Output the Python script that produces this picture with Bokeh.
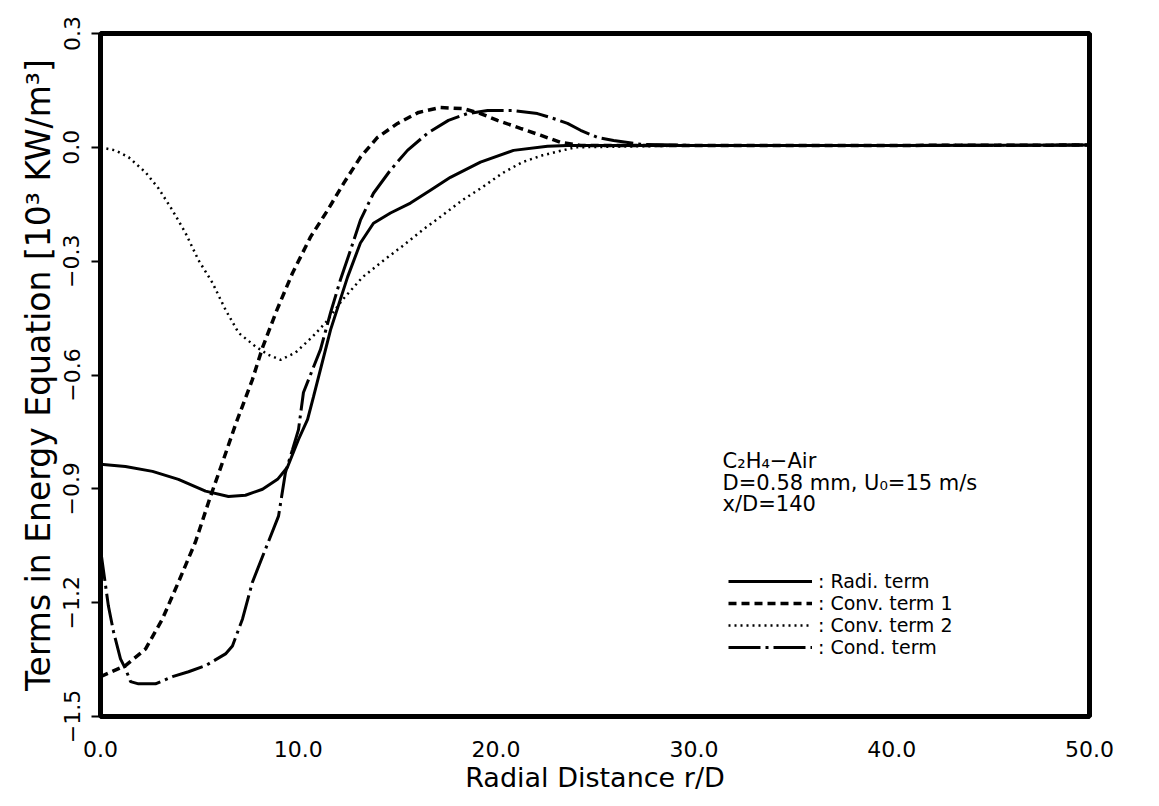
from bokeh.plotting import figure
from bokeh.models import Range1d, FixedTicker, Legend, LegendItem, Label
from bokeh.embed import file_html
from bokeh.resources import INLINE

FONT = "DejaVu Sans"

# ---- data ----
radi_r = [0.0, 1.26, 2.63, 3.94, 5.31, 6.47, 7.33, 8.19, 8.95, 9.45, 10.01, 10.47, 10.77,
          11.63, 12.49, 13.14, 13.80, 14.66, 15.67, 16.68, 17.69, 19.21, 20.88, 22.6, 23.6,
          30.0, 40.0, 50.0]
radi_v = [-0.835, -0.841, -0.854, -0.875, -0.906, -0.920, -0.917, -0.901, -0.875, -0.843,
          -0.770, -0.717, -0.657, -0.481, -0.342, -0.252, -0.200, -0.173, -0.147, -0.113,
          -0.079, -0.039, -0.008, 0.003, 0.005, 0.005, 0.005, 0.006]

conv1_r = [0.0, 1.26, 2.28, 3.13, 3.94, 4.80, 5.56, 6.17, 6.83, 7.68, 8.19, 8.90, 9.71,
           10.62, 11.48, 12.29, 13.14, 14.00, 15.02, 16.08, 17.19, 18.35, 19.21, 20.07,
           21.23, 22.24, 23.26, 24.27, 30.0, 40.0, 50.0]
conv1_v = [-1.395, -1.366, -1.322, -1.243, -1.146, -1.040, -0.920, -0.830, -0.730, -0.612,
           -0.528, -0.431, -0.331, -0.236, -0.166, -0.095, -0.026, 0.026, 0.063, 0.092,
           0.105, 0.102, 0.089, 0.071, 0.050, 0.032, 0.013, 0.005, 0.005, 0.005, 0.006]

conv2_r = [0.0, 0.76, 1.42, 2.28, 2.93, 3.64, 4.30, 4.95, 5.66, 6.32, 6.98, 7.84, 8.49,
           9.10, 9.86, 10.72, 11.38, 12.23, 13.25, 14.26, 15.27, 16.28, 17.29, 18.30,
           19.31, 20.32, 21.33, 22.35, 23.36, 24.0, 30.0, 40.0, 50.0]
conv2_v = [0.0, -0.008, -0.026, -0.066, -0.108, -0.166, -0.226, -0.297, -0.357, -0.428,
           -0.489, -0.525, -0.547, -0.560, -0.541, -0.499, -0.462, -0.402, -0.342, -0.300,
           -0.260, -0.218, -0.179, -0.139, -0.105, -0.068, -0.039, -0.021, -0.008, 0.0,
           0.005, 0.005, 0.006]

cond_r = [0.0, 0.40, 0.66, 1.01, 1.26, 1.52, 1.92, 2.78, 3.64, 4.45, 5.31, 6.32, 6.67,
          7.18, 7.68, 8.34, 9.00, 9.35, 9.71, 10.01, 10.26, 11.12, 11.63, 12.13, 12.64,
          13.14, 13.80, 14.66, 15.52, 16.53, 17.59, 18.55, 19.57, 20.88, 22.09, 22.90,
          23.61, 24.27, 25.13, 25.94, 27.3, 30.0, 40.0, 50.0]
cond_v = [-1.059, -1.209, -1.277, -1.348, -1.374, -1.408, -1.414, -1.414, -1.395, -1.382,
          -1.366, -1.335, -1.314, -1.243, -1.146, -1.059, -0.972, -0.857, -0.796, -0.744,
          -0.646, -0.533, -0.436, -0.349, -0.271, -0.192, -0.121, -0.060, -0.008, 0.037,
          0.071, 0.089, 0.097, 0.097, 0.089, 0.076, 0.063, 0.045, 0.026, 0.018, 0.008,
          0.005, 0.005, 0.006]

series_labels = [": Radi. term", ": Conv. term 1", ": Conv. term 2", ": Cond. term"]

x_ticks = [0, 10, 20, 30, 40, 50]
x_tick_labels = ["0.0", "10.0", "20.0", "30.0", "40.0", "50.0"]
y_ticks = [-1.5, -1.2, -0.9, -0.6, -0.3, 0.0, 0.3]
y_tick_labels = ["\u22121.5", "\u22121.2", "\u22120.9", "\u22120.6", "\u22120.3", "0.0", "0.3"]

info_lines = ["C\u2082H\u2084\u2212Air", "D=0.58 mm, U\u2080=15 m/s", "x/D=140"]

# ---- figure ----
W, H = 1150, 800
p = figure(width=W, height=H, output_backend="svg", toolbar_location=None,
           x_range=Range1d(0, 50), y_range=Range1d(-1.5, 0.3),
           min_border_left=100, min_border_right=W - 1089,
           min_border_top=33, min_border_bottom=H - 716)
p.background_fill_color = "white"
p.border_fill_color = "white"
p.grid.visible = False
p.outline_line_color = "black"
p.outline_line_width = 5

# axes
p.xaxis.ticker = FixedTicker(ticks=x_ticks)
p.xaxis.major_label_overrides = {t: l for t, l in zip(x_ticks, x_tick_labels)}
p.xaxis.major_label_text_align = "left"
p.xaxis.major_tick_line_color = None
p.xaxis.minor_tick_line_color = None
p.xaxis.axis_line_color = None
p.xaxis.major_label_standoff = 18
p.xaxis.major_label_text_font = FONT
p.xaxis.major_label_text_font_size = "22px"
p.xaxis.major_label_text_color = "black"
p.xaxis.axis_label = "Radial Distance r/D"
p.xaxis.axis_label_text_font = FONT
p.xaxis.axis_label_text_font_size = "27px"
p.xaxis.axis_label_text_font_style = "normal"
p.xaxis.axis_label_text_color = "black"
p.xaxis.axis_label_standoff = 2

p.yaxis.ticker = FixedTicker(ticks=y_ticks)
p.yaxis.major_label_overrides = {t: l for t, l in zip(y_ticks, y_tick_labels)}
p.yaxis.major_label_orientation = "vertical"
p.yaxis.major_tick_in = 0
p.yaxis.major_tick_out = 9
p.yaxis.major_tick_line_width = 2
p.yaxis.major_tick_line_color = "black"
p.yaxis.minor_tick_line_color = None
p.yaxis.axis_line_color = None
p.yaxis.major_label_standoff = 12
p.yaxis.major_label_text_font = FONT
p.yaxis.major_label_text_font_size = "22px"
p.yaxis.major_label_text_color = "black"
p.yaxis.axis_label = "Terms in Energy Equation [10\u00b3 KW/m\u00b3]"
p.yaxis.axis_label_text_font = FONT
p.yaxis.axis_label_text_font_size = "33px"
p.yaxis.axis_label_text_font_style = "normal"
p.yaxis.axis_label_text_color = "black"
p.yaxis.axis_label_standoff = 3

# curves
r1 = p.line(radi_r, radi_v, line_color="black", line_width=3)
r2 = p.line(conv1_r, conv1_v, line_color="black", line_width=3.5, line_dash="8 5")
r3 = p.line(conv2_r, conv2_v, line_color="black", line_width=2.5, line_dash="2 4")
r4 = p.line(cond_r, cond_v, line_color="black", line_width=3, line_dash="32 5 3 5")

# legend: one entry per row so that the rows sit as close as in the original
row_offsets = [124, 102, 80, 58]
for lab, r, off in zip(series_labels, [r1, r2, r3, r4], row_offsets):
    lg = Legend(items=[LegendItem(label=lab, renderers=[r])],
                location=(628, off), orientation="vertical",
                glyph_width=84, glyph_height=20, label_height=20,
                label_standoff=6, spacing=0, padding=0, margin=0,
                label_text_font=FONT, label_text_font_size="19px",
                label_text_color="black",
                background_fill_alpha=0, border_line_color=None)
    p.add_layout(lg, "center")

# info text
for i, line in enumerate(info_lines):
    p.add_layout(Label(x=31.45, y=-0.795 - i * 0.057, text=line,
                       text_font=FONT, text_font_size="21px",
                       text_color="black", text_baseline="top", text_align="left"))

open("out.html", "w").write(file_html(p, INLINE))
